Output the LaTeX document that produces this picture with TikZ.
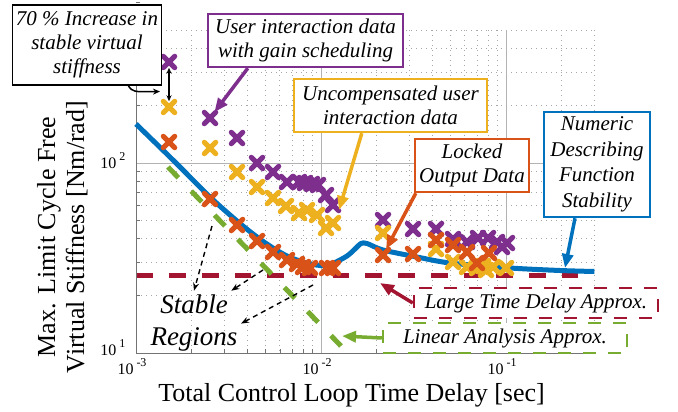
\documentclass[tikz,border=0pt]{standalone}
\usepackage{fontspec}
\setmainfont{Liberation Serif}
\usetikzlibrary{positioning,arrows.meta,shapes.misc}

\definecolor{mblue}{rgb}{0,0.447,0.741}
\definecolor{morange}{rgb}{0.85,0.325,0.098}
\definecolor{myellow}{rgb}{0.929,0.694,0.125}
\definecolor{mpurple}{rgb}{0.494,0.184,0.556}
\definecolor{mgreen}{rgb}{0.466,0.674,0.188}
\definecolor{mred}{rgb}{0.635,0.078,0.184}
\newcommand{\annfont}{\fontsize{21}{24}\itshape\selectfont}
\newcommand{\tenpow}[1]{{\fontsize{16}{16}\selectfont 10\hspace{3pt}\raisebox{8pt}{\fontsize{12}{12}\selectfont #1}}}

\begin{document}
\begin{tikzpicture}[x=1pt, y=-1pt,
mk/.style={cross out, draw=#1, line width=5pt, line cap=round, minimum size=6.5pt, inner sep=0pt},
note/.style={draw, fill=white, line width=2.4pt, align=center, font=\annfont, inner sep=1pt},
dnote/.style={note, dash pattern=on 13pt off 12pt},
gmin/.style={black!35, line width=1pt, dash pattern=on 1pt off 4pt},
gmaj/.style={black!30, line width=0.8pt},
axline/.style={black!55, line width=0.9pt},
callout/.style={->, >={Triangle[length=14pt,width=11pt]}, line width=3.5pt},
sarrow/.style={->, >={Stealth[length=8pt,width=6pt]}, line width=1.4pt, dash pattern=on 5pt off 4pt},
lab/.style={font=\fontsize{26}{30}\selectfont}
]
    \useasboundingbox (0,0) rectangle (678,412);

    %Grid
    \foreach \k in {2,...,9} {
        \draw[gmin] ({136+185*log10(\k)},30.2) -- ++(0,322.8);
        \draw[gmin] ({321+185*log10(\k)},30.2) -- ++(0,322.8);
        \draw[gmin] (136,{353-190*log10(\k)}) -- (594.3,{353-190*log10(\k)});
        \draw[axline] ({136+185*log10(\k)},353) -- ++(0,-4);
        \draw[axline] ({321+185*log10(\k)},353) -- ++(0,-4);
        \draw[axline] (136,{353-190*log10(\k)}) -- ++(4,0);
        \draw[axline] (136,{163-190*log10(\k)}) -- ++(4,0);
    }
    \foreach \k in {2,3} {
        \draw[gmin] ({506+185*log10(\k)},30.2) -- ++(0,322.8);
        \draw[axline] ({506+185*log10(\k)},353) -- ++(0,-4);
    }
    \foreach \k in {2,...,5}
        \draw[gmin] (136,{163-190*log10(\k)}) -- (594.3,{163-190*log10(\k)});
    \draw[gmaj] (321,30.2) -- (321,353);
    \draw[gmaj] (506,30.2) -- (506,353);
    \draw[gmaj] (136,163) -- (594.3,163);
    \draw[axline] (136,30.2) -- (136,353) -- (594.3,353);

    %Ticks
    \node[anchor=base, xshift=-4pt] (xt3) at (136,374) {\tenpow{-3}};
    \node[anchor=base, xshift=-4pt] (xt2) at (321,374) {\tenpow{-2}};
    \node[anchor=base, xshift=-4pt] (xt1) at (506,374) {\tenpow{-1}};
    \node[anchor=base east] (yt2) at (129,168.5) {\tenpow{2}};
    \node[anchor=base east] (yt1) at (129,355.5) {\tenpow{1}};

    %Axis labels
    \node[lab, anchor=base] (xlab) at (351.5,401.5) {Total Control Loop Time Delay [sec]};
    \node[lab, rotate=90, anchor=base] (ylab1) at (55,237) {Max. Limit Cycle Free};
    \node[lab, rotate=90, anchor=base] (ylab2) at (84,237) {Virtual Stiffness [Nm/rad]};

    %Lines
    \draw[mred, line width=5pt, dash pattern=on 16.7pt off 16pt] (136.5,275.7) -- (578,275.7);
    \draw[mgreen, line width=5pt, dash pattern=on 15pt off 18.5pt] (168,167) -- (341,346);
    \draw[mblue, line width=5pt] plot[smooth, tension=0.5] coordinates {
        (136,124) (175,162) (210,197) (237,221) (257,237) (273,248) (287,256)
        (300,261) (316,265) (326,265.5) (334,263) (347,256) (355,249) (361,243.5)
        (367,243.5) (383,250) (417,257) (450,263) (510,268) (560,270.5) (594.3,271.5)};

    %Data
    \foreach \px/\py [count=\i] in {169/62, 210/118, 237/138, 257/163, 273/172, 287/182,
        299/182, 305/183, 312/184, 318/185, 326/195, 333/205, 383/220, 413/229, 436/229,
        453/239, 467/242, 478/238, 488/238, 497/242, 507/243, 502/247}
        \node[mk=mpurple] (p\i) at (\px,\py) {};
    \foreach \px/\py [count=\i] in {169/107, 210/148, 237/172, 257/187, 273/198, 286/206,
        299/213, 307/210, 317/215, 326/228, 333/223, 383/233, 436/249, 453/262, 467/267,
        477/268, 486/270, 493/267, 506/268, 483/266}
        \node[mk=myellow] (y\i) at (\px,\py) {};
    \foreach \px/\py [count=\i] in {169/142, 210/199, 237/225, 257/241, 273/252, 287/260,
        297/264, 303/267, 310/268, 327/268, 333/268, 383/255, 413/254, 436/240, 453/245,
        467/252, 489/253, 477/263}
        \node[mk=morange] (o\i) at (\px,\py) {};

    %Boxes
    \node[note, draw=black, line width=1.8pt, minimum width=149pt, minimum height=80pt]
        (incr) at (87,45) {70 \% Increase in\\stable virtual\\stiffness};
    \node[note, draw=mpurple, minimum width=195pt, minimum height=53pt]
        (gsbox) at (305.5,40.5) {User interaction data\\with gain scheduling};
    \node[note, draw=myellow, minimum width=193pt, minimum height=53pt]
        (ucbox) at (390.5,105.5) {Uncompensated user\\interaction data};
    \node[note, draw=morange, minimum width=114pt, minimum height=53pt]
        (lobox) at (472,165.5) {Locked\\Output Data};
    \node[note, draw=mblue, minimum width=106pt, minimum height=105pt,
        font=\fontsize{21}{25.5}\itshape\selectfont]
        (ndbox) at (597,164.5) {Numeric\\Describing\\Function\\Stability};
    \node[dnote, draw=mred, minimum width=244pt, minimum height=30pt]
        (ltbox) at (536,303) {Large Time Delay Approx.};
    \node[dnote, draw=mgreen, minimum width=244pt, minimum height=30pt]
        (labox) at (505,338) {Linear Analysis Approx.};
    \node[lab, font=\fontsize{27}{30}\itshape\selectfont, anchor=base]
        (stab) at (194,313) {Stable};
    \node[lab, font=\fontsize{27}{30}\itshape\selectfont, anchor=base]
        (regn) at (194,345) {Regions};

    %Arrows
    \coordinate (inctip) at (160,91.5);
    \coordinate (uctip) at (339,210);
    \coordinate (ndtip) at (565,268);
    \coordinate (lttip) at (380,283);
    \coordinate (latip) at (342,336);
    \coordinate (s1) at (212,226);
    \coordinate (s2) at (263,270);
    \coordinate (s3) at (313,285);
    \draw[<->, >={Stealth[length=6pt,width=5pt]}, line width=1.3pt] (p1) -- (y1);
    \draw[->, >={Stealth[length=7pt,width=6pt]}, line width=1.5pt]
        ([xshift=-34pt]incr.south east) .. controls (133,92) .. (inctip);
    \draw[callout, mpurple] ([xshift=41pt]gsbox.south west) -- (p2);
    \draw[callout, myellow] ([xshift=69pt]ucbox.south west) -- (uctip);
    \draw[callout, morange] ([xshift=2pt]lobox.south west) -- (o12);
    \draw[callout, mblue] ([xshift=-22pt]ndbox.south) -- (ndtip);
    \draw[callout, mred] (ltbox.west) -- (lttip);
    \draw[callout, mgreen] (labox.west) -- (latip);
    \draw[sarrow] (s1) -- (stab.north);
    \draw[sarrow] (s2) -- (stab.north east);
    \draw[sarrow] (s3) -- (regn.north east);
\end{tikzpicture}
\end{document}
